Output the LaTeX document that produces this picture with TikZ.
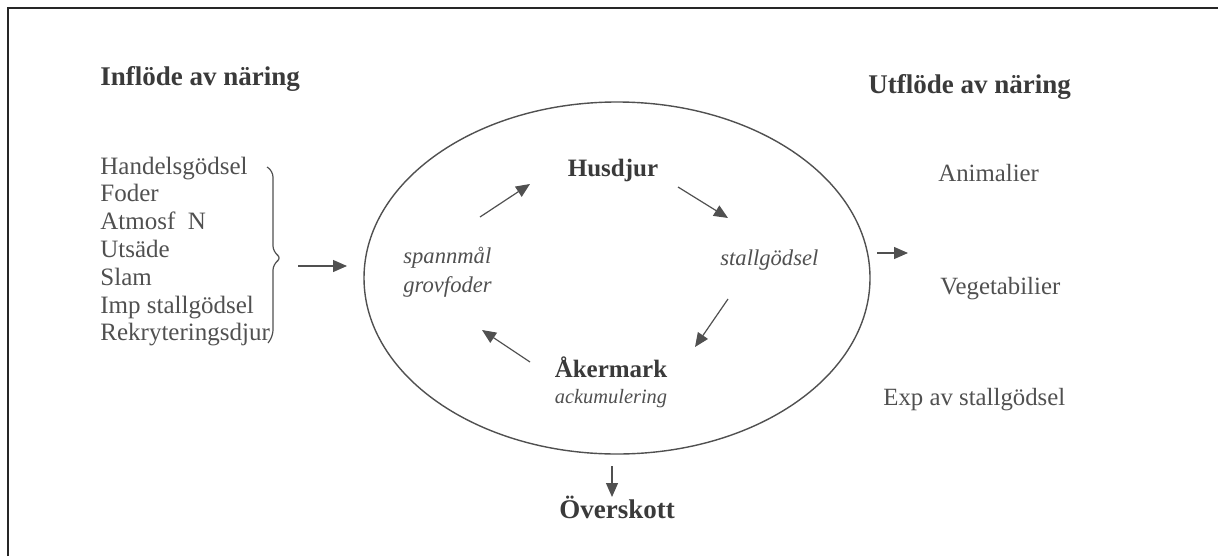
\documentclass[tikz,border=0pt]{standalone}
\usepackage{fontspec}
\setmainfont{Liberation Serif}
\usetikzlibrary{arrows.meta,shapes.geometric}
\definecolor{txt}{HTML}{505050}
\definecolor{bld}{HTML}{3A3A3A}
\definecolor{ln}{HTML}{505050}
\begin{document}
\begin{tikzpicture}[x=0.5pt,y=-0.5pt,
  regular/.style={font=\fontsize{12.4}{14}\selectfont, text=txt, inner sep=0pt, anchor=base west},
  listtext/.style={font=\fontsize{12.5}{14}\selectfont, text=txt, inner sep=0pt, anchor=base west},
  head/.style={font=\fontsize{13.5}{16}\selectfont\bfseries, text=bld, inner sep=0pt},
  boldname/.style={font=\fontsize{12.5}{15}\selectfont\bfseries, text=bld, inner sep=0pt, anchor=base},
  ital/.style={font=\fontsize{11.3}{13}\selectfont\itshape, text=txt, inner sep=0pt, anchor=base west},
  flow/.style={draw=ln, line width=0.6pt, -{Triangle[length=7pt,width=6pt]}}]
\useasboundingbox (0,0) rectangle (1218,556);
% frame (only left and top edges are visible)
\draw[line width=1pt, black!85] (8,556) -- (8,8) -- (1218,8);
% headings
\node[head, anchor=base west] (inhead) at (100,86) {Inflöde av näring};
\node[head, anchor=base west] (uthead) at (868,93) {Utflöde av näring};
% input list
\foreach \t [count=\i from 0] in {Handelsgödsel, Foder, Atmosf\ \ N, Utsäde, Slam, Imp stallgödsel, Rekryteringsdjur}
  \node[listtext] (in\i) at (100,{174+27.8*\i}) {\t};
% brace
\draw[ln, line width=0.6pt, rounded corners=3pt] (267,167) -- (273,171) -- (273,252) -- (282,258) -- (273,264) -- (273,336) -- (268,343);
% system ellipse
\node[draw=ln, line width=0.7pt, ellipse, minimum width=253pt, minimum height=176pt, inner sep=0pt] (sys) at (617,278) {};
% inner nodes
\node[boldname] (hus) at (613,176) {Husdjur};
\node[boldname] (aker) at (611,377) {Åkermark};
\node[ital, font=\fontsize{10.2}{12}\selectfont\itshape, anchor=base] (ack) at (611,403) {ackumulering};
\node[ital] (spann) at (403,263) {spannmål};
\node[ital] (grov) at (403,292) {grovfoder};
\node[ital] (stall) at (720,265) {stallgödsel};
% outputs
\node[regular] (anim) at (938,181) {Animalier};
\node[regular] (veg) at (940,294) {Vegetabilier};
\node[regular] (exp) at (883,405) {Exp av stallgödsel};
\node[head, anchor=base] (over) at (617,518) {Överskott};
% arrow end points
\coordinate (a1s) at (480,217); \coordinate (a1e) at (530,184);
\coordinate (a2s) at (678,187); \coordinate (a2e) at (728,218);
\coordinate (a3s) at (728,299); \coordinate (a3e) at (695,347);
\coordinate (a4s) at (530,362); \coordinate (a4e) at (482,330);
\coordinate (ins) at (298,266); \coordinate (ine) at (347,266);
\coordinate (outs) at (877,253); \coordinate (oute) at (908,253);
\coordinate (dns) at (612,466); \coordinate (dne) at (612,497);
% arrows
\draw[flow] (a1s) -- (a1e);
\draw[flow] (a2s) -- (a2e);
\draw[flow] (a3s) -- (a3e);
\draw[flow] (a4s) -- (a4e);
\draw[flow] (ins) -- (ine);
\draw[flow] (outs) -- (oute);
\draw[flow] (dns) -- (dne);
\end{tikzpicture}
\end{document}
